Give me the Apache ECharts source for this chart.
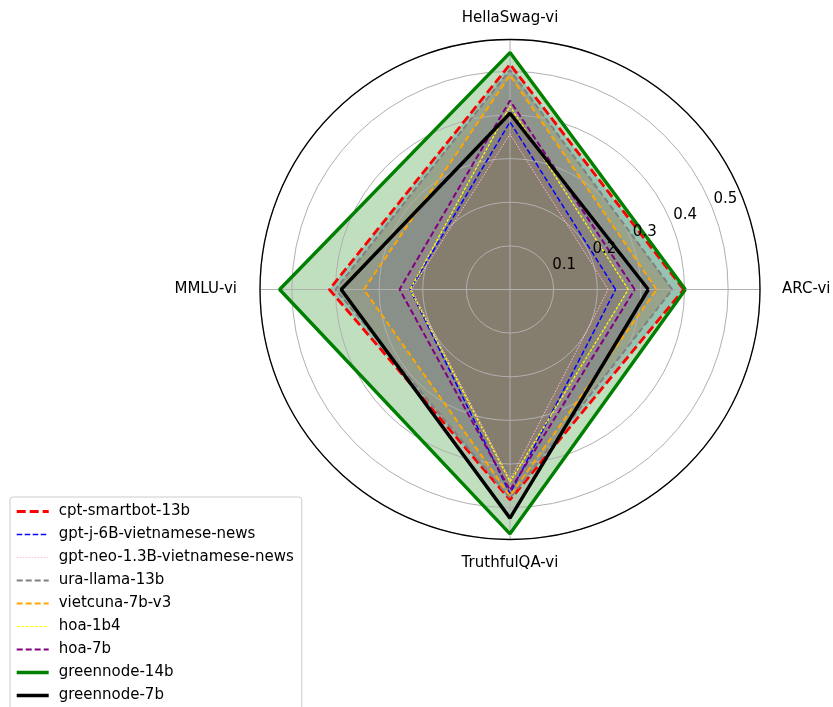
<!DOCTYPE html>
<html>
<head>
<meta charset="utf-8">
<script src="https://cdn.jsdelivr.net/npm/echarts@6/dist/echarts.min.js"></script>
<style>
  html, body { margin: 0; padding: 0; background: #ffffff; }
  #chart { width: 833px; height: 707px; }
</style>
</head>
<body>
<div id="chart"></div>
<script>
// Benchmark axes, counter-clockwise from the right
const categories = ['ARC-vi', 'HellaSwag-vi', 'MMLU-vi', 'TruthfulQA-vi'];
const radialTicks = [0.1, 0.2, 0.3, 0.4, 0.5];

const models = ['cpt-smartbot-13b', 'gpt-j-6B-vietnamese-news', 'gpt-neo-1.3B-vietnamese-news',
  'ura-llama-13b', 'vietcuna-7b-v3', 'hoa-1b4', 'hoa-7b', 'greennode-14b', 'greennode-7b'];

// Scores per model, in the order of `categories`
const cptSmartbot13b = [0.398, 0.516, 0.414, 0.482];
const gptJ6bNews     = [0.242, 0.384, 0.229, 0.468];
const gptNeo13bNews  = [0.225, 0.356, 0.226, 0.436];
const uraLlama13b    = [0.372, 0.503, 0.400, 0.478];
const vietcuna7bV3   = [0.336, 0.491, 0.335, 0.473];
const hoa1b4         = [0.271, 0.420, 0.229, 0.441];
const hoa7b          = [0.286, 0.433, 0.253, 0.460];
const greennode14b   = [0.402, 0.543, 0.528, 0.560];
const greennode7b    = [0.317, 0.404, 0.387, 0.524];

const scores = [cptSmartbot13b, gptJ6bNews, gptNeo13bNews, uraLlama13b, vietcuna7bV3,
  hoa1b4, hoa7b, greennode14b, greennode7b];

// Outline look for each model
const styles = [
  { color: '#ff0000', width: 2.8, type: [9, 4] },
  { color: '#0000ff', width: 1.5, type: [5.5, 2.5] },
  { color: '#ffc0cb', width: 1.0, type: [1.5, 1.5] },
  { color: '#808080', width: 2.0, type: [6, 3] },
  { color: '#ffa500', width: 2.0, type: [6, 3] },
  { color: '#ffff00', width: 1.2, type: [3, 1.5] },
  { color: '#800080', width: 2.0, type: [6, 3] },
  { color: '#008000', width: 3.4, type: 'solid' },
  { color: '#000000', width: 3.4, type: 'solid' }
];
// Translucent fill under each outline
const fillColors = ['#1f77b4', '#ff7f0e', '#2ca02c', '#d62728', '#9467bd',
  '#8c564b', '#e377c2', '#008000', '#7f7f7f'];
const FILL_OPACITY = 0.25;

const RMAX = 0.573;
const CENTER = [510, 289.5];
const RADIUS = 250;
const FONT = 'DejaVu Sans';

// Closed loop of [radius, angle] points
function loop(vals) {
  const pts = vals.map((v, i) => [v, i * 90]);
  pts.push([vals[0], 360]);
  return pts;
}

// Fills sit below the grid and every outline
const fillSeries = models.map((name, i) => ({
  name: name + ' (area)',
  type: 'line',
  coordinateSystem: 'polar',
  polarIndex: 0,
  data: loop(scores[i]),
  symbol: 'none',
  lineStyle: { width: 0, opacity: 0 },
  areaStyle: { color: fillColors[i], opacity: FILL_OPACITY },
  emphasis: { disabled: true },
  silent: true,
  z: 1
}));

const lineSeries = models.map((name, i) => ({
  name: name,
  type: 'line',
  coordinateSystem: 'polar',
  polarIndex: 0,
  data: loop(scores[i]),
  symbol: 'none',
  smooth: false,
  lineStyle: { color: styles[i].color, width: styles[i].width, type: styles[i].type },
  itemStyle: { color: styles[i].color },
  emphasis: { disabled: true },
  z: 3
}));

// Per-label nudges for the benchmark names
const nameRich = {
  r: { padding: [0, 0, 0, 8] },
  t: { padding: [0, 0, 0, 0] },
  l: { padding: [0, 9, 0, 0] },
  b: { padding: [2, 0, 0, 0] }
};
const nameKeys = ['r', 't', 'l', 'b'];

const chart = echarts.init(document.getElementById('chart'), null, { renderer: 'canvas' });
chart.setOption({
  animation: false,
  backgroundColor: '#ffffff',
  textStyle: { fontFamily: FONT },
  polar: [
    { center: CENTER, radius: RADIUS },
    { center: CENTER, radius: RADIUS }
  ],
  angleAxis: [
    {
      polarIndex: 0,
      type: 'value', min: 0, max: 360, interval: 90,
      startAngle: 0, clockwise: false,
      axisLine: { show: true, lineStyle: { color: '#000000', width: 1.3 } },
      axisTick: { show: false },
      splitLine: { show: true, lineStyle: { color: '#b0b0b0', width: 1 } },
      axisLabel: {
        show: true, margin: 14, color: '#000000', fontSize: 15, fontFamily: FONT,
        formatter: v => {
          const k = Math.round(v / 90) % 4;
          return '{' + nameKeys[k] + '|' + categories[k] + '}';
        },
        rich: nameRich
      },
      z: 2
    },
    {
      polarIndex: 1,
      type: 'value', min: 0, max: 360,
      startAngle: 22.5, clockwise: false,
      axisLine: { show: false }, axisTick: { show: false },
      splitLine: { show: false }, axisLabel: { show: false }
    }
  ],
  radiusAxis: [
    {
      polarIndex: 0,
      type: 'value', min: 0, max: RMAX, interval: 0.1,
      axisLine: { show: false }, axisTick: { show: false },
      axisLabel: { show: false },
      splitLine: { show: true, lineStyle: { color: '#b0b0b0', width: 1 } },
      z: 2
    },
    {
      polarIndex: 1,
      type: 'value', min: 0, max: RMAX, interval: 0.1,
      axisLine: { show: false }, axisTick: { show: false },
      splitLine: { show: false },
      axisLabel: {
        show: true, margin: 8, align: 'left', verticalAlign: 'middle',
        padding: [0, 0, 0, 5],
        color: '#000000', fontSize: 15, fontFamily: FONT,
        showMinLabel: false, showMaxLabel: false,
        formatter: v => {
          const t = radialTicks.find(x => Math.abs(x - v) < 1e-6);
          return t === undefined ? '' : t.toFixed(1);
        }
      },
      z: 20
    }
  ],
  legend: {
    show: true,
    orient: 'vertical',
    left: 10, top: 497,
    width: 286, height: 260,
    padding: [7, 8, 20, 5],
    itemWidth: 32, itemHeight: 14, itemGap: 8,
    backgroundColor: 'rgba(255,255,255,0.8)',
    borderColor: '#cccccc', borderWidth: 1, borderRadius: 3,
    selectedMode: false,
    itemStyle: { opacity: 0 },
    lineStyle: { width: 'inherit', type: 'inherit', color: 'inherit' },
    textStyle: { color: '#000000', fontSize: 15, fontFamily: FONT, padding: [0, 0, 0, 5] },
    data: models
  },
  series: fillSeries.concat(lineSeries)
});
</script>
</body>
</html>
